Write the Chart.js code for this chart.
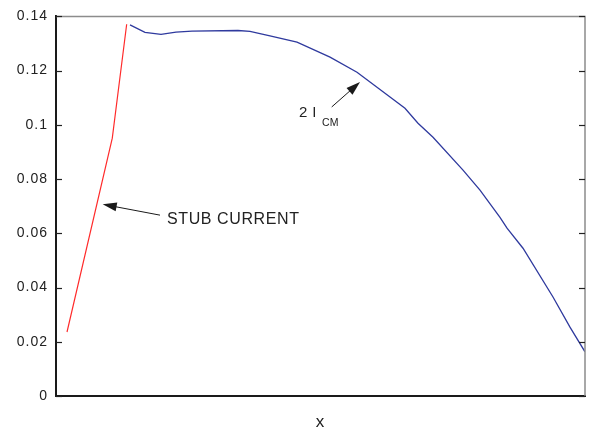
<!DOCTYPE html>
<html><head><meta charset="utf-8">
<script src="https://cdn.jsdelivr.net/npm/chart.js@4/dist/chart.umd.min.js"></script>
<style>html,body{margin:0;padding:0;background:#fff}canvas{display:block}</style>
</head><body>
<canvas id="c" width="592" height="429"></canvas>
<script>
// ---- data ----
const yTickLabels = ["0", "0.02", "0.04", "0.06", "0.08", "0.1", "0.12", "0.14"];
const stubX = [2.08, 10.64, 13.36];
const stubY = [0.0236, 0.0951, 0.1371];
const cmX = [13.99, 16.82, 19.85, 22.68, 25.71, 34.40, 36.67, 40.45, 45.56, 51.80, 56.90, 63.14, 65.97, 68.43, 71.27, 76.94, 80.15, 83.93, 85.26, 88.28, 93.95, 97.16, 100];
const cmY = [0.1369, 0.1341, 0.1334, 0.1342, 0.1346, 0.1348, 0.1345, 0.1328, 0.1305, 0.1250, 0.1194, 0.1103, 0.1061, 0.1006, 0.0954, 0.0833, 0.0759, 0.0659, 0.0619, 0.0545, 0.0365, 0.0254, 0.0163];
const xLabel = "x";
const stubLabel = "STUB CURRENT";
const cmLabelMain = "2 I";
const cmLabelSub = "CM";

// ---- annotation anchors (data units) ----
const stubArrow = {tail: [19.66, 0.0667], tip: [8.83, 0.0707], text: [20.98, 0.0652]};
const cmArrow = {tail: [52.12, 0.1066], tip: [57.47, 0.1158], text: [45.94, 0.1046], sub: [50.28, 0.1006]};

const toPts = (xs, ys) => xs.map((x, i) => ({x, y: ys[i]}));

function drawArrow(ctx, x1, y1, x2, y2, head, hw) {
  const a = Math.atan2(y2 - y1, x2 - x1), c = Math.cos(a), s = Math.sin(a);
  ctx.beginPath(); ctx.moveTo(x1, y1); ctx.lineTo(x2 - head * 0.7 * c, y2 - head * 0.7 * s); ctx.stroke();
  ctx.beginPath(); ctx.moveTo(x2, y2);
  ctx.lineTo(x2 - head * c + hw * s, y2 - head * s - hw * c);
  ctx.lineTo(x2 - head * c - hw * s, y2 - head * s + hw * c);
  ctx.closePath(); ctx.fill();
}

const deco = {
  id: 'deco',
  beforeDraw(chart) { chart.ctx.letterSpacing = '1px'; },
  afterDraw(chart) {
    const ctx = chart.ctx, a = chart.chartArea, xs = chart.scales.x, ys = chart.scales.y;
    ctx.save();
    ctx.letterSpacing = '0px';
    // top & right frame
    ctx.strokeStyle = '#8c8c8c'; ctx.lineWidth = 1.5;
    ctx.beginPath(); ctx.moveTo(a.left, a.top); ctx.lineTo(a.right, a.top); ctx.lineTo(a.right, a.bottom); ctx.stroke();
    // inward tick marks on both sides
    ctx.strokeStyle = '#222'; ctx.lineWidth = 1.2;
    ys.ticks.forEach(t => {
      const y = Math.round(ys.getPixelForValue(t.value)) + 0.5;
      ctx.beginPath(); ctx.moveTo(a.left, y); ctx.lineTo(a.left + 6, y); ctx.stroke();
      ctx.beginPath(); ctx.moveTo(a.right - 6, y); ctx.lineTo(a.right, y); ctx.stroke();
    });
    const P = p => [xs.getPixelForValue(p[0]), ys.getPixelForValue(p[1])];
    ctx.strokeStyle = '#1a1a1a'; ctx.fillStyle = '#1a1a1a'; ctx.lineWidth = 1;
    let t1 = P(stubArrow.tail), t2 = P(stubArrow.tip);
    drawArrow(ctx, t1[0], t1[1], t2[0], t2[1], 14, 4.5);
    t1 = P(cmArrow.tail); t2 = P(cmArrow.tip);
    drawArrow(ctx, t1[0], t1[1], t2[0], t2[1], 14, 4.5);
    ctx.fillStyle = '#222'; ctx.textBaseline = 'middle'; ctx.textAlign = 'left';
    ctx.letterSpacing = '0.6px';
    ctx.font = '16px "Liberation Sans", Arial, sans-serif';
    let p = P(stubArrow.text); ctx.fillText(stubLabel, p[0], p[1]);
    ctx.letterSpacing = '0.3px';
    ctx.font = '15px "Liberation Sans", Arial, sans-serif';
    p = P(cmArrow.text); ctx.fillText(cmLabelMain, p[0], p[1]);
    ctx.font = '10.5px "Liberation Sans", Arial, sans-serif';
    p = P(cmArrow.sub); ctx.fillText(cmLabelSub, p[0], p[1]);
    ctx.restore();
  }
};

new Chart(document.getElementById('c'), {
  type: 'line',
  data: {
    datasets: [
      {data: toPts(stubX, stubY), borderColor: '#ff2b2b', borderWidth: 1.2, pointRadius: 0, tension: 0, fill: false},
      {data: toPts(cmX, cmY), borderColor: '#2f3a9e', borderWidth: 1.3, pointRadius: 0, tension: 0, fill: false}
    ]
  },
  options: {
    responsive: false, animation: false,
    layout: {padding: {left: 0, right: 7, top: 16, bottom: 0}},
    plugins: {legend: {display: false}, tooltip: {enabled: false}},
    scales: {
      x: {
        type: 'linear', min: 0, max: 100,
        grid: {display: false, drawTicks: false},
        border: {display: true, color: '#1a1a1a', width: 2},
        ticks: {display: false},
        title: {display: true, text: xLabel, color: '#222', font: {family: '"Liberation Sans", Arial, sans-serif', size: 17, lineHeight: 1}, padding: {top: 0, bottom: -1.5}},
        afterFit: s => { s.height = 33; }
      },
      y: {
        min: 0, max: 0.14,
        grid: {display: false, drawTicks: false},
        border: {display: true, color: '#1a1a1a', width: 2},
        ticks: {stepSize: 0.02, padding: 8, color: '#222', font: {family: '"Liberation Sans", Arial, sans-serif', size: 14},
          callback: (v, i) => yTickLabels[i]},
        afterFit: s => { s.width = 56; }
      }
    }
  },
  plugins: [deco]
});
</script>
</body></html>
